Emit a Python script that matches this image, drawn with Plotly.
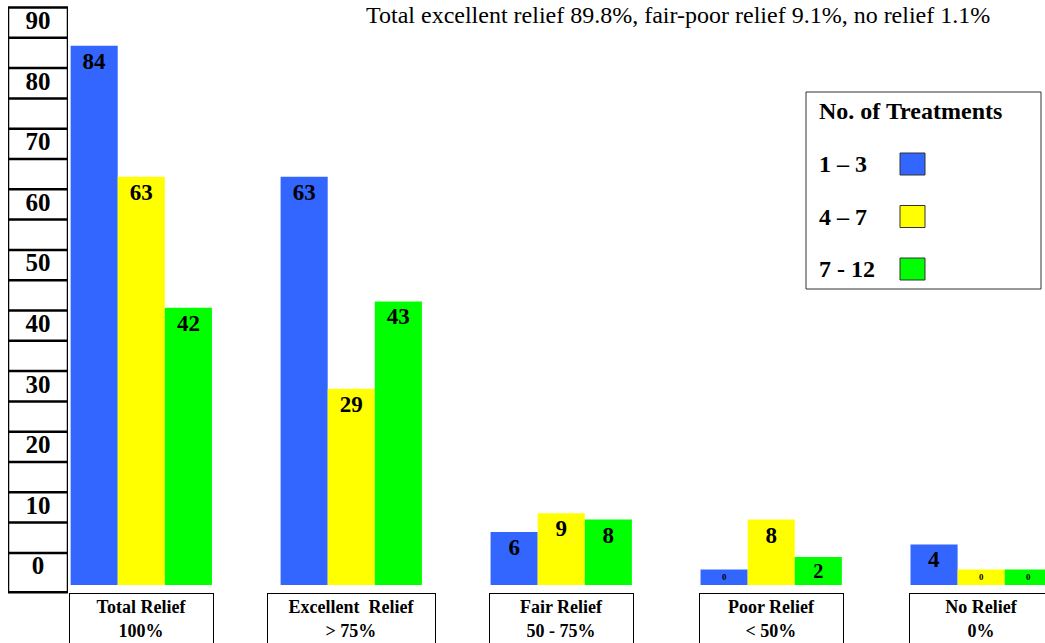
import plotly.graph_objects as go

# ---- data -------------------------------------------------------------
relief_titles = ["Total Relief", "Excellent  Relief", "Fair Relief", "Poor Relief", "No Relief"]
relief_ranges = ["100%", "&gt; 75%", "50 - 75%", "&lt; 50%", "0%"]

treatment_groups = ["1 \u2013 3", "4 \u2013 7", "7 - 12"]
vals_1_to_3 = [84, 63, 6, 0, 4]
vals_4_to_7 = [63, 29, 9, 8, 0]
vals_7_to_12 = [42, 43, 8, 2, 0]

axis_ticks = [0, 10, 20, 30, 40, 50, 60, 70, 80, 90]

summary_text = "Total excellent relief 89.8%, fair-poor relief 9.1%, no relief 1.1%"

# ---- styling ----------------------------------------------------------
W, H = 1045, 643
SERIF = "Liberation Serif"
colors = ["#3366FF", "#FFFF00", "#00FF00"]
BAR_FLOOR = -2.5          # bars start a little below zero so empty groups stay visible
label_box_w = [143, 167, 143, 143, 143]

# main value axis: bar floor sits on pixel row 585, 6.233 px per unit
PX_PER_UNIT = 6.233
BASE_ROW = 585
y_lo = BAR_FLOOR - (H - BASE_ROW) / PX_PER_UNIT
y_hi = BAR_FLOOR + BASE_ROW / PX_PER_UNIT


def px(x):
    return x / W


def py(y):
    return 1 - y / H


categories = [f"{t}<br>{r}" for t, r in zip(relief_titles, relief_ranges)]
series = [vals_1_to_3, vals_4_to_7, vals_7_to_12]

fig = go.Figure()

for name, vals, col in zip(treatment_groups, series, colors):
    fig.add_trace(go.Bar(
        x=categories,
        y=[v - BAR_FLOOR for v in vals],
        base=BAR_FLOOR,
        name=name,
        text=[str(v) for v in vals],
        texttemplate="<b>%{text}</b>",
        textposition="inside",
        insidetextanchor="end",
        textangle=0,
        textfont=dict(family=SERIF, size=23, color="black"),
        marker=dict(color=col, line=dict(width=0)),
        showlegend=False,
        hoverinfo="skip",
    ))

# boxed scale column on its own axis pair
fig.add_trace(go.Scatter(
    x=[0.5] * len(axis_ticks),
    y=axis_ticks,
    mode="text",
    text=[f"<b>{t}</b>" for t in axis_ticks],
    textposition="middle center",
    textfont=dict(family=SERIF, size=25, color="black"),
    xaxis="x2",
    yaxis="y2",
    showlegend=False,
    hoverinfo="skip",
))

shapes = []
col_lw = 2.5
shapes.append(dict(type="rect", xref="x2", yref="y2", x0=0, x1=1,
                   y0=-4, y1=axis_ticks[-1] + 2.5,
                   line=dict(color="black", width=col_lw), fillcolor="rgba(0,0,0,0)"))
for t in axis_ticks[:-1]:
    for edge in (t + 2.5, t + 7.5):
        shapes.append(dict(type="line", xref="x2", yref="y2", x0=0, x1=1, y0=edge, y1=edge,
                           line=dict(color="black", width=col_lw)))

annotations = []

# category label boxes beneath each group
for cat, bw in zip(categories, label_box_w):
    annotations.append(dict(
        x=cat, xref="x", y=py(593), yref="paper",
        xanchor="center", yanchor="top",
        text=f"<b>{cat}</b>", showarrow=False,
        width=bw, height=50, valign="middle", align="center",
        bordercolor="black", borderwidth=1, borderpad=0,
        font=dict(family=SERIF, size=18, color="black"),
    ))

# legend panel
shapes.append(dict(type="rect", xref="paper", yref="paper",
                   x0=px(806), x1=px(1041), y0=py(289), y1=py(92),
                   line=dict(color="#333333", width=1), fillcolor="white"))
annotations.append(dict(x=px(817), y=py(111), xref="paper", yref="paper",
                        xanchor="left", yanchor="middle", showarrow=False,
                        text="<b>No. of Treatments</b>",
                        font=dict(family=SERIF, size=24, color="black")))
for i, (name, col) in enumerate(zip(treatment_groups, colors)):
    yc = 164 + i * 52.5
    annotations.append(dict(x=px(817), y=py(yc), xref="paper", yref="paper",
                            xanchor="left", yanchor="middle", showarrow=False,
                            text=f"<b>{name}</b>",
                            font=dict(family=SERIF, size=24, color="black")))
    shapes.append(dict(type="rect", xref="paper", yref="paper",
                       x0=px(900), x1=px(925), y0=py(yc + 11), y1=py(yc - 11),
                       line=dict(color="#333333", width=1), fillcolor=col))

# summary line along the top edge
annotations.append(dict(x=px(678), y=1, xref="paper", yref="paper",
                        xanchor="center", yanchor="top", showarrow=False,
                        text=summary_text,
                        font=dict(family=SERIF, size=24, color="black")))

fig.update_layout(
    width=W, height=H,
    margin=dict(l=0, r=0, t=0, b=0),
    font=dict(family=SERIF),
    paper_bgcolor="white", plot_bgcolor="rgba(0,0,0,0)",
    barmode="group", bargap=0.327, bargroupgap=0,
    xaxis=dict(domain=[px(70), 1], type="category", range=[-0.3395, 4.304],
               visible=False, fixedrange=True),
    yaxis=dict(domain=[0, 1], range=[y_lo, y_hi], visible=False, fixedrange=True),
    xaxis2=dict(domain=[px(8), px(68)], range=[0, 1], anchor="y2",
                visible=False, fixedrange=True),
    yaxis2=dict(domain=[0, 1], range=[-12.37, 93.74], anchor="x2",
                visible=False, fixedrange=True),
    shapes=shapes,
    annotations=annotations,
    showlegend=False,
)

fig.write_html("out.html")
